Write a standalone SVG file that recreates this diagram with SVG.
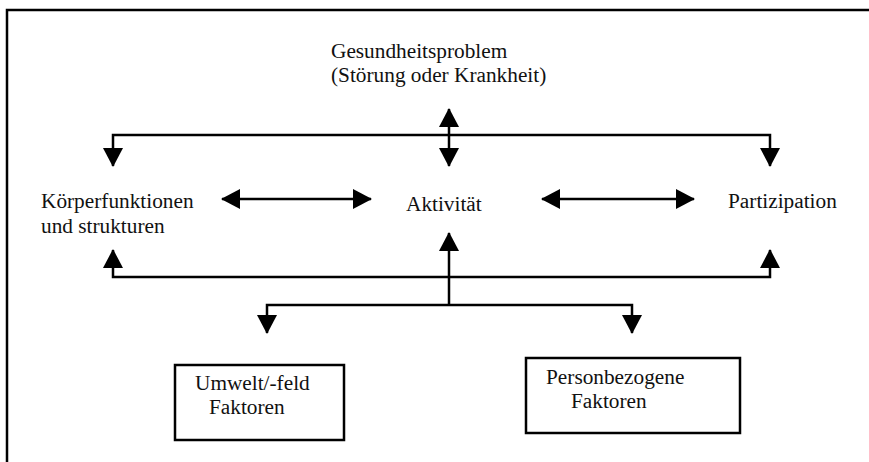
<svg xmlns="http://www.w3.org/2000/svg" width="869" height="462" viewBox="0 0 869 462">
<style>
text{font-family:"Liberation Serif","Times New Roman",serif;font-size:21.3px;fill:#111}
.ln{fill:none;stroke:#000;stroke-width:2.5}
.box{fill:#fff;stroke:#000;stroke-width:2.5}
</style>
<defs>
<marker id="arr" markerUnits="userSpaceOnUse" markerWidth="19" markerHeight="20" refX="18" refY="10" orient="auto-start-reverse" viewBox="0 0 19 20">
<path d="M0,0 L19,10 L0,20 z" fill="#000"/>
</marker>
</defs>
<rect width="869" height="462" fill="#fff"/>
<path d="M7,462 V10 H869" fill="none" stroke="#000" stroke-width="2.5"/>
<g id="connectors">
<path class="ln" d="M113,166 V135 H770 V166" marker-start="url(#arr)" marker-end="url(#arr)"/>
<path class="ln" d="M449,109 V166" marker-start="url(#arr)" marker-end="url(#arr)"/>
<path class="ln" d="M222,199 H371" marker-start="url(#arr)" marker-end="url(#arr)"/>
<path class="ln" d="M542,199 H694" marker-start="url(#arr)" marker-end="url(#arr)"/>
<path class="ln" d="M113,250 V277 H770 V250" marker-start="url(#arr)" marker-end="url(#arr)"/>
<path class="ln" d="M449,305 V233" marker-end="url(#arr)"/>
<path class="ln" d="M267,333 V305 H632 V333" marker-start="url(#arr)" marker-end="url(#arr)"/>
</g>
<g id="gesundheitsproblem">
<text x="331" y="58">Gesundheitsproblem</text>
<text x="331" y="82">(Störung oder Krankheit)</text>
</g>
<g id="koerperfunktionen">
<text x="41" y="208">Körperfunktionen</text>
<text x="41" y="233">und strukturen</text>
</g>
<g id="aktivitaet">
<text x="406" y="211">Aktivität</text>
</g>
<g id="partizipation">
<text x="728" y="208">Partizipation</text>
</g>
<g id="umwelt">
<rect class="box" x="175" y="365" width="169" height="75"/>
<text x="195" y="390">Umwelt/-feld</text>
<text x="209" y="414">Faktoren</text>
</g>
<g id="personbezogen">
<rect class="box" x="526" y="358" width="214" height="75"/>
<text x="546" y="384">Personbezogene</text>
<text x="571" y="408">Faktoren</text>
</g>
</svg>
